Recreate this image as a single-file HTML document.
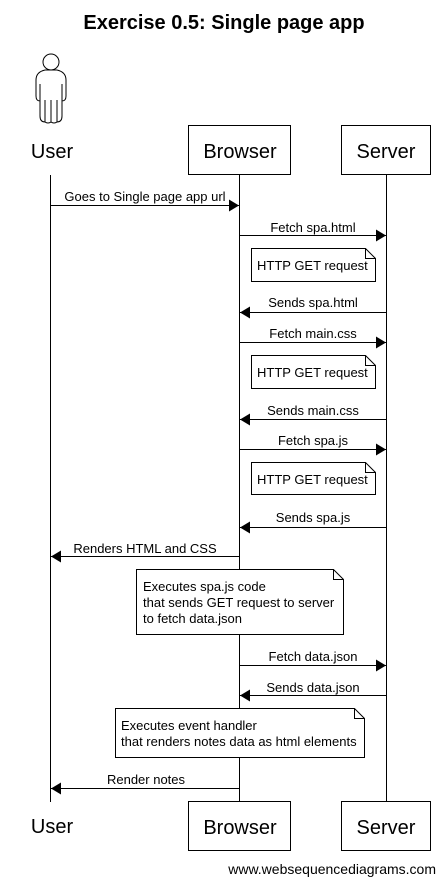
<!DOCTYPE html>
<html><head><meta charset="utf-8"><style>html,body{margin:0;padding:0;background:#fff}svg{display:block}text{font-family:"Liberation Sans",sans-serif;fill:#000}</style></head>
<body>
<svg width="445" height="884" viewBox="0 0 445 884" xmlns="http://www.w3.org/2000/svg">
<defs>
<marker id="a" markerWidth="10" markerHeight="12" refX="10" refY="6" orient="auto" markerUnits="userSpaceOnUse"><path d="M0,0 L10,6 L0,12 Z" fill="#000"/></marker>
</defs>
<text x="224" y="29" font-size="20" font-weight="bold" text-anchor="middle">Exercise 0.5: Single page app</text>
<g fill="none" stroke="#000" stroke-width="1">
<circle cx="51" cy="62" r="8"/>
<path d="M45,70 Q36,72 36,80 L36,96 Q36,101 40,101 L40,116 Q40,122 45,122 L45,100 M57,70 Q66,72 66,80 L66,96 Q66,101 62,101 L62,116 Q62,122 57,122 L57,100 M45,70 L57,70 M45,122 Q48,124 51,122 Q54,124 57,122 M51,100 L51,122 M40,84 L40,101 M62,84 L62,101"/>
</g>
<text x="52" y="158" font-size="20" text-anchor="middle">User</text>
<rect x="188.5" y="125.5" width="102" height="49" fill="#fff" stroke="#000"/>
<text x="240" y="158" font-size="20" text-anchor="middle">Browser</text>
<rect x="341.5" y="125.5" width="89" height="49" fill="#fff" stroke="#000"/>
<text x="386" y="158" font-size="20" text-anchor="middle">Server</text>
<g stroke="#000" stroke-width="1">
<line x1="50.5" y1="175" x2="50.5" y2="802"/>
<line x1="239.5" y1="175" x2="239.5" y2="801"/>
<line x1="386.5" y1="175" x2="386.5" y2="801"/>
</g>
<g stroke="#000" stroke-width="1" marker-end="url(#a)">
<line x1="51" y1="205.5" x2="239" y2="205.5"/>
<line x1="240" y1="235.5" x2="386" y2="235.5"/>
<line x1="386" y1="312.5" x2="240" y2="312.5"/>
<line x1="240" y1="342.5" x2="386" y2="342.5"/>
<line x1="386" y1="419.5" x2="240" y2="419.5"/>
<line x1="240" y1="449.5" x2="386" y2="449.5"/>
<line x1="386" y1="527.5" x2="240" y2="527.5"/>
<line x1="239" y1="556.5" x2="51" y2="556.5"/>
<line x1="240" y1="665.5" x2="386" y2="665.5"/>
<line x1="386" y1="695.5" x2="240" y2="695.5"/>
<line x1="239" y1="788.5" x2="51" y2="788.5"/>
</g>
<g font-size="13" text-anchor="middle">
<text x="145" y="201">Goes to Single page app url</text>
<text x="313" y="232">Fetch spa.html</text>
<text x="313" y="307">Sends spa.html</text>
<text x="313" y="338">Fetch main.css</text>
<text x="313" y="415">Sends main.css</text>
<text x="313" y="445">Fetch spa.js</text>
<text x="313" y="522">Sends spa.js</text>
<text x="145" y="553">Renders HTML and CSS</text>
<text x="313" y="661">Fetch data.json</text>
<text x="313" y="692">Sends data.json</text>
<text x="146" y="784">Render notes</text>
</g>
<g fill="#fff" stroke="#000" stroke-width="1">
<path d="M251.5,248.5 H365.5 L375.5,258.5 V281.5 H251.5 Z M365.5,248.5 V258.5 H375.5"/>
<path d="M251.5,355.5 H365.5 L375.5,365.5 V388.5 H251.5 Z M365.5,355.5 V365.5 H375.5"/>
<path d="M251.5,462.5 H365.5 L375.5,472.5 V494.5 H251.5 Z M365.5,462.5 V472.5 H375.5"/>
<path d="M136.5,569.5 H333.5 L343.5,579.5 V634.5 H136.5 Z M333.5,569.5 V579.5 H343.5"/>
<path d="M115.5,708.5 H354.5 L364.5,718.5 V757.5 H115.5 Z M354.5,708.5 V718.5 H364.5"/>
</g>
<g font-size="13">
<text x="257" y="270">HTTP GET request</text>
<text x="257" y="377">HTTP GET request</text>
<text x="257" y="484">HTTP GET request</text>
<text x="143" y="591">Executes spa.js code</text>
<text x="143" y="607">that sends GET request to server</text>
<text x="143" y="623">to fetch data.json</text>
<text x="121" y="730">Executes event handler</text>
<text x="121" y="746">that renders notes data as html elements</text>
</g>
<text x="52" y="833" font-size="20" text-anchor="middle">User</text>
<rect x="188.5" y="801.5" width="102" height="49" fill="#fff" stroke="#000"/>
<text x="240" y="834" font-size="20" text-anchor="middle">Browser</text>
<rect x="341.5" y="801.5" width="89" height="49" fill="#fff" stroke="#000"/>
<text x="386" y="834" font-size="20" text-anchor="middle">Server</text>
<text x="436" y="874" font-size="14" text-anchor="end">www.websequencediagrams.com</text>
</svg>
</body></html>
